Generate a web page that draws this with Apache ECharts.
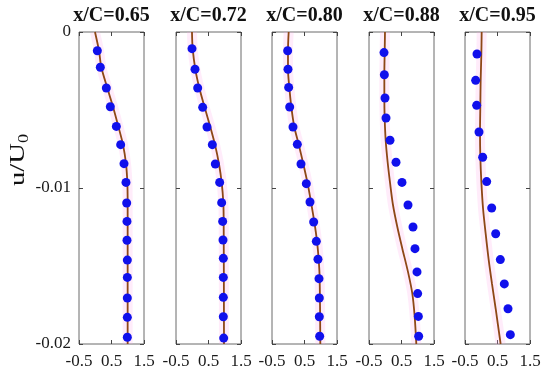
<!DOCTYPE html>
<html>
<head>
<meta charset="utf-8">
<script src="https://cdn.jsdelivr.net/npm/echarts@6/dist/echarts.min.js"></script>
<style>html,body{margin:0;padding:0;background:#fff}#c{width:550px;height:376px}</style>
</head>
<body>
<div id="c"></div>
<script>
const titles = ['x/C=0.65', 'x/C=0.72', 'x/C=0.80', 'x/C=0.88', 'x/C=0.95'];
const xTicks = [-0.5, 0.5, 1.5];
const yTicks = [0, -0.01, -0.02];

// Measured points (blue dots)
const dotU_065 = [0.064, 0.156, 0.341, 0.464, 0.649, 0.782, 0.885, 0.946, 0.967, 0.977, 0.977, 0.987, 0.987, 0.987, 0.987, 0.987];
const dotY_065 = [-0.0012, -0.00226, -0.00359, -0.00479, -0.00605, -0.00722, -0.00844, -0.00964, -0.01096, -0.01214, -0.01335, -0.01462, -0.01573, -0.01705, -0.01829, -0.01957];
const dotU_072 = [-0.008, 0.085, 0.167, 0.321, 0.454, 0.618, 0.710, 0.844, 0.905, 0.936, 0.946, 0.956, 0.956, 0.956, 0.956, 0.967];
const dotY_072 = [-0.00107, -0.00239, -0.00359, -0.00483, -0.00609, -0.00722, -0.00846, -0.00964, -0.01094, -0.01214, -0.01333, -0.01451, -0.01573, -0.01701, -0.01825, -0.01962];
const dotU_080 = [-0.018, -0.008, 0.013, 0.044, 0.146, 0.279, 0.392, 0.556, 0.669, 0.782, 0.864, 0.915, 0.946, 0.956, 0.956, 0.967];
const dotY_080 = [-0.0012, -0.00239, -0.00355, -0.00481, -0.00609, -0.0072, -0.00846, -0.00972, -0.0109, -0.01218, -0.01342, -0.01457, -0.01581, -0.01705, -0.01825, -0.0195];
const dotU_088 = [-0.038, -0.028, -0.008, 0.023, 0.146, 0.331, 0.515, 0.700, 0.854, 0.915, 0.977, 0.997, 1.018, 1.028];
const dotY_088 = [-0.00132, -0.00274, -0.00423, -0.00551, -0.00694, -0.00835, -0.00964, -0.01109, -0.0125, -0.01389, -0.01538, -0.01677, -0.01823, -0.0195];
const dotU_095 = [-0.131, -0.172, -0.141, -0.069, 0.044, 0.167, 0.321, 0.444, 0.587, 0.710, 0.823, 0.895];
const dotY_095 = [-0.00141, -0.0031, -0.0047, -0.00641, -0.00803, -0.00959, -0.01128, -0.01293, -0.01459, -0.01615, -0.01774, -0.0194];

// Computed profiles (brown curves)
const lineU_065 = [-0.008, 0.115, 0.187, 0.372, 0.546, 0.710, 0.854, 0.946, 0.987, 0.997, 0.997];
const lineY_065 = [0, -0.0012, -0.00226, -0.00359, -0.00479, -0.00605, -0.00722, -0.00844, -0.00964, -0.01096, -0.02];
const lineU_072 = [-0.008, 0.013, 0.095, 0.218, 0.382, 0.556, 0.700, 0.823, 0.905, 0.956, 0.967, 0.977];
const lineY_072 = [0, -0.00107, -0.00239, -0.00359, -0.00483, -0.00609, -0.00722, -0.00846, -0.00964, -0.01094, -0.01214, -0.02];
const lineU_080 = [0.013, -0.008, -0.008, 0.033, 0.095, 0.187, 0.321, 0.464, 0.597, 0.700, 0.803, 0.885, 0.936, 0.967, 0.987];
const lineY_080 = [0, -0.0012, -0.00239, -0.00355, -0.00481, -0.00609, -0.0072, -0.00846, -0.00972, -0.0109, -0.01218, -0.01342, -0.01457, -0.01581, -0.02];
const lineU_088 = [-0.008, -0.018, -0.028, -0.028, -0.018, 0.013, 0.074, 0.146, 0.238, 0.372, 0.526, 0.700, 0.833, 0.905, 0.956];
const lineY_088 = [0, -0.00132, -0.00274, -0.00423, -0.00551, -0.00694, -0.00835, -0.00964, -0.01109, -0.0125, -0.01389, -0.01538, -0.01677, -0.01823, -0.02];
const lineU_095 = [0.013, 0.003, -0.018, -0.028, -0.038, -0.028, 0.003, 0.054, 0.136, 0.228, 0.331, 0.444, 0.597];
const lineY_095 = [0, -0.00141, -0.0031, -0.0047, -0.00641, -0.00803, -0.00959, -0.01128, -0.01293, -0.01459, -0.01615, -0.01774, -0.02];

const dotsU = [dotU_065, dotU_072, dotU_080, dotU_088, dotU_095];
const dotsY = [dotY_065, dotY_072, dotY_080, dotY_088, dotY_095];
const linesU = [lineU_065, lineU_072, lineU_080, lineU_088, lineU_095];
const linesY = [lineY_065, lineY_072, lineY_080, lineY_088, lineY_095];

const zip = (a, b) => a.map((v, i) => [v, b[i]]);

const lefts = [79, 176, 272, 369, 465];
const W = 65, TOP = 32, H = 312;
const serif = '"Liberation Serif", "Times New Roman", serif';
const frame = '#6a6a6a';

const grid = [], xAxis = [], yAxis = [], series = [], graphic = [];
for (let i = 0; i < 5; i++) {
  grid.push({left: lefts[i], top: TOP, width: W, height: H, show: true, borderColor: frame, borderWidth: 1, backgroundColor: 'transparent'});
  const xBase = {
    gridIndex: i, type: 'value', min: xTicks[0], max: xTicks[xTicks.length - 1], interval: 1,
    axisLine: {show: false, onZero: false}, splitLine: {show: false},
    axisTick: {show: true, inside: true, length: 4, lineStyle: {color: '#444'}}
  };
  xAxis.push(Object.assign({}, xBase, {position: 'bottom',
    axisLabel: {show: true, showMinLabel: true, showMaxLabel: true, margin: 9, hideOverlap: false,
      fontFamily: serif, fontSize: 17, color: '#1a1a1a', formatter: v => String(Math.round(v * 10) / 10)}}));
  xAxis.push(Object.assign({}, xBase, {position: 'top', axisLabel: {show: false}}));
  const yBase = {
    gridIndex: i, type: 'value', min: yTicks[2], max: yTicks[0], interval: 0.01,
    axisLine: {show: false, onZero: false}, splitLine: {show: false},
    axisTick: {show: true, inside: true, length: 4, lineStyle: {color: '#444'}}
  };
  yAxis.push(Object.assign({}, yBase, {position: 'left',
    axisLabel: {show: i === 0, margin: 8, fontFamily: serif, fontSize: 17, color: '#1a1a1a',
      formatter: v => (Math.abs(v) < 1e-9 ? '0' : String(Math.round(v * 100) / 100))}}));
  yAxis.push(Object.assign({}, yBase, {position: 'right', axisLabel: {show: false}}));

  const xi = 2 * i, yi = 2 * i;
  series.push({type: 'line', xAxisIndex: xi, yAxisIndex: yi, data: zip(linesU[i], linesY[i]),
    smooth: 0.3, symbol: 'none', silent: true, z: 1,
    lineStyle: {width: 10, color: 'rgba(255,170,230,0.22)'}});
  series.push({type: 'line', xAxisIndex: xi, yAxisIndex: yi, data: zip(linesU[i], linesY[i]),
    smooth: 0.3, symbol: 'none', silent: true, z: 2,
    lineStyle: {width: 1.8, color: '#8e4716'}});
  series.push({type: 'scatter', xAxisIndex: xi, yAxisIndex: yi, data: zip(dotsU[i], dotsY[i]),
    symbol: 'circle', symbolSize: 9, z: 3, itemStyle: {color: '#1010ec', opacity: 1}});

  graphic.push({type: 'text', x: lefts[i] + W / 2, y: 16,
    style: {text: titles[i], font: 'bold 20px ' + serif, fill: '#111', textAlign: 'center', textVerticalAlign: 'middle'}});
}

graphic.push({type: 'text', x: 18, y: 160, rotation: Math.PI / 2, scaleX: 1.3, scaleY: 1,
  style: {text: '{a|u/U}{b|0}', textAlign: 'center', textVerticalAlign: 'middle',
    rich: {a: {fontFamily: serif, fontSize: 22, fill: '#111', lineHeight: 26},
           b: {fontFamily: serif, fontSize: 14, fill: '#111', lineHeight: 26, padding: [12, 0, 0, 0]}}}});

const chart = echarts.init(document.getElementById('c'), null, {renderer: 'canvas'});
chart.setOption({animation: false, backgroundColor: '#fff', grid, xAxis, yAxis, series, graphic});
</script>
</body>
</html>
